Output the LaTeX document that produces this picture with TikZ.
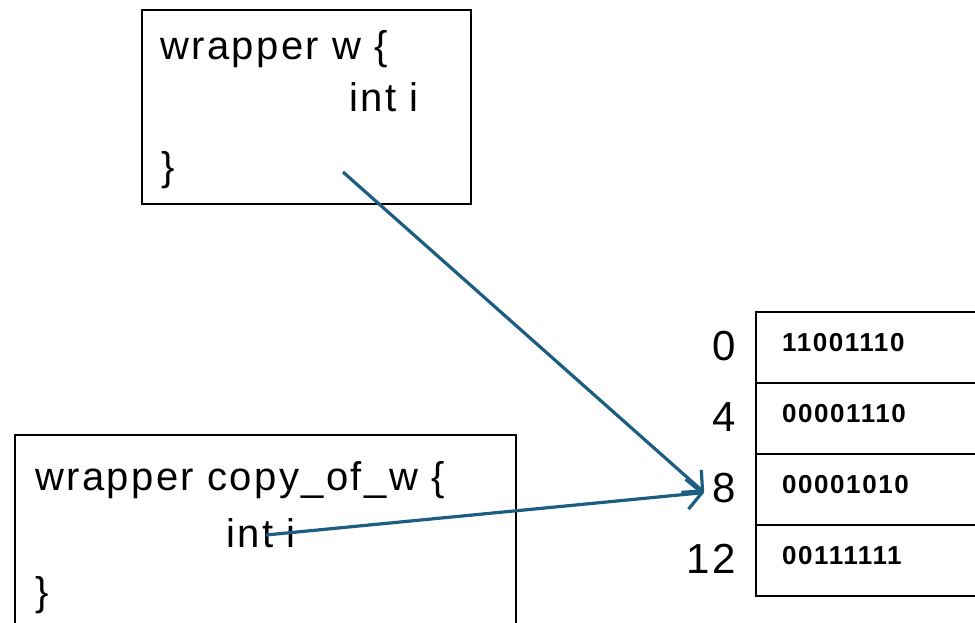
\documentclass[tikz,border=0pt]{standalone}
\usepackage{fontspec}
\setmainfont{Liberation Sans}[LetterSpace=6]
\usetikzlibrary{arrows.meta}
\definecolor{ptrblue}{HTML}{1B5E82}

\tikzset{
  wrapbox/.style={draw,line width=1.8pt,anchor=north west,inner sep=0pt},
  codeline/.style={anchor=base west,inner sep=0pt,font=\fontsize{40}{44}\selectfont},
  addr/.style={anchor=base east,inner sep=0pt,font=\fontsize{42}{46}\selectfont},
  memcell/.style={draw,line width=1.8pt,anchor=north west,minimum width=260pt,minimum height=71pt,inner sep=0pt},
  bits/.style={anchor=base west,inner sep=0pt,font=\bfseries\fontsize{26}{28}\selectfont},
  ptr/.style={draw=ptrblue,line width=3.2pt,-{Straight Barb[length=15pt,width=30pt]}}
}

\begin{document}
\begin{tikzpicture}[x=1pt,y=-1pt]
\useasboundingbox (0,0) rectangle (975,623);

\node[wrapbox,minimum width=329pt,minimum height=194pt] (wbox) at (141,9) {};
\node[codeline] (wtitle) at (160,60) {wrapper w \{};
\node[codeline] (wfield) at (349,112) {int i};
\node[codeline] (wclose) at (161,180) {\}};

\node[wrapbox,minimum width=501pt,minimum height=220pt] (cbox) at (14,434) {};
\node[codeline] (ctitle) at (35,490) {wrapper copy\_of\_w \{};
\node[codeline] (cfield) at (226,547) {int i};
\node[codeline] (cclose) at (35,605) {\}};

\foreach \n/\y/\b/\a in {0/311/11001110/0,1/382/00001110/4,2/453/00001010/8,3/524/00111111/12}{
  \node[memcell] (cell\n) at (755,\y) {};
  \node[bits] (bits\n) at (782,\y+40) {\b};
  \node[addr] (addr\a) at (736,\y+49) {\a};
}

\coordinate (wptr) at (343,172);
\coordinate (cptr) at (266,535);
\coordinate (tip) at ([xshift=-8pt,yshift=-5pt]addr8.west);

\draw[ptr] (wptr) -- (tip);
\draw[ptr] (cptr) -- (tip);
\end{tikzpicture}
\end{document}
